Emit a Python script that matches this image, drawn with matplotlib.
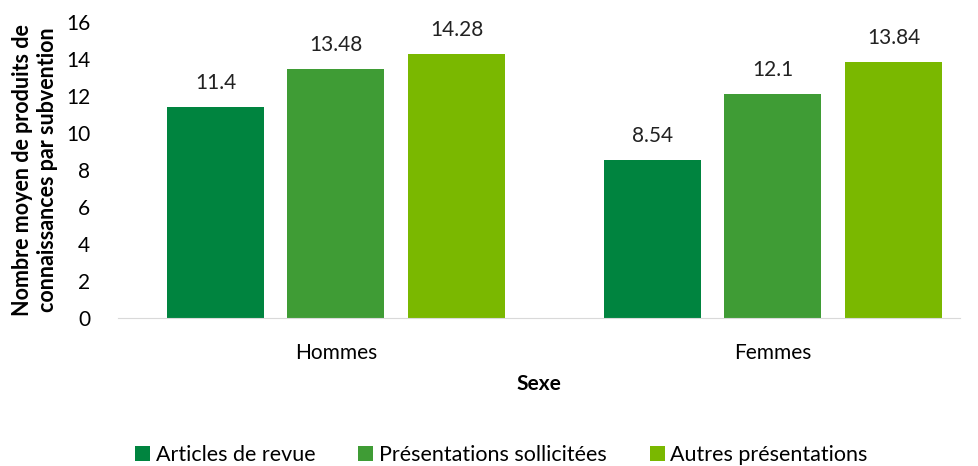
import numpy as np
import matplotlib.pyplot as plt

plt.rcParams['font.family'] = ['Lato', 'DejaVu Sans']

groups = ['Hommes', 'Femmes']
series = ['Articles de revue', 'Présentations sollicitées', 'Autres présentations']
articles = [11.4, 8.54]
sollicitees = [13.48, 12.1]
autres = [14.28, 13.84]
labels = [['11.4', '8.54'], ['13.48', '12.1'], ['14.28', '13.84']]
colors = ['#00843F', '#3F9C35', '#7AB800']

fig = plt.figure(figsize=(9.79, 4.66), dpi=100)
ax = fig.add_axes([0.1205, 0.3176, 0.86, 0.6352])

x = np.arange(len(groups))
width = 0.222
step = 0.276
for i, (vals, name) in enumerate(zip([articles, sollicitees, autres], series)):
    pos = x + (i - 1) * step
    ax.bar(pos, vals, width, color=colors[i], label=name)
    for xp, v, t in zip(pos, vals, labels[i]):
        ax.text(xp, v + 0.75, t, ha='center', va='bottom', fontsize=15, color='#222222')

ax.set_ylim(0, 16)
ax.set_xlim(-0.499, 1.428)
ax.set_yticks(range(0, 17, 2))
ax.set_xticks(x)
ax.set_xticklabels(groups, fontsize=15)
ax.tick_params(axis='y', labelsize=15, length=0, pad=20)
ax.tick_params(axis='x', length=0, pad=18)
for s in ['top', 'right', 'left']:
    ax.spines[s].set_visible(False)
ax.spines['bottom'].set_color('#d9d9d9')

ax.set_ylabel('Nombre moyen de produits de\nconnaissances par subvention',
              fontsize=15.5, fontweight='bold', labelpad=6)
ax.set_xlabel('Sexe', fontsize=15, fontweight='bold', labelpad=8)

fig.legend(loc='lower center', bbox_to_anchor=(0.512, -0.04), ncol=3, frameon=False,
           fontsize=15.5, handlelength=0.7, handleheight=0.7, handletextpad=0.25,
           columnspacing=2.0)

fig.savefig('out.png', dpi=100)
